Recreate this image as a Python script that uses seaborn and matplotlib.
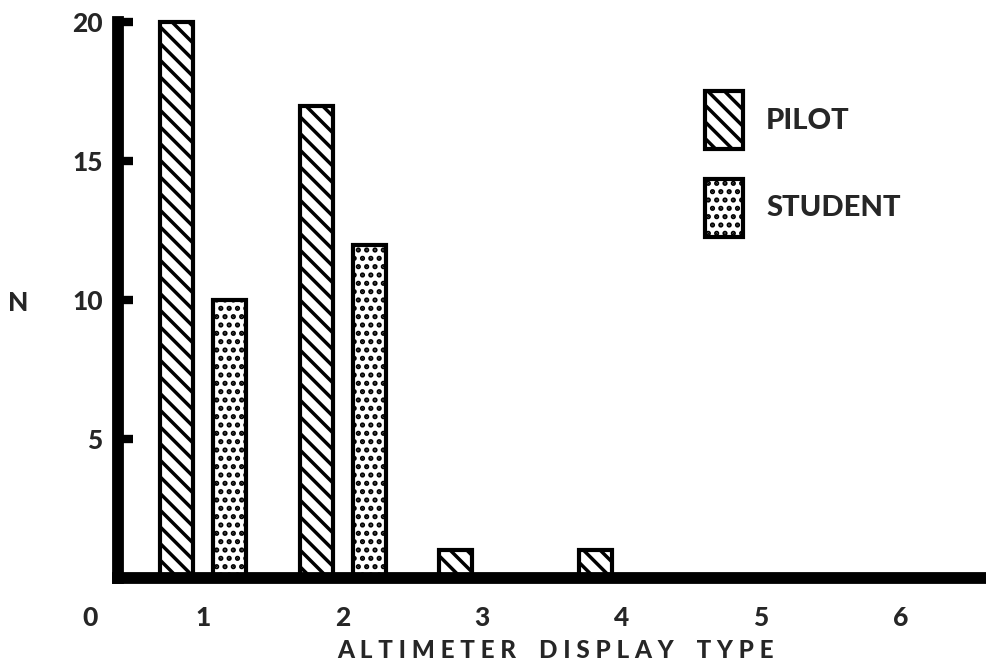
import pandas as pd
import seaborn as sns
import matplotlib.pyplot as plt

sns.set_theme(style="white")
plt.rcParams['font.family'] = ['Lato', 'DejaVu Sans']
plt.rcParams['font.weight'] = 'black'
plt.rcParams['hatch.linewidth'] = 2.5
plt.rcParams['hatch.color'] = 'black'

# Values
display_types = [1, 2, 3, 4, 5, 6]
pilot_counts = [20, 17, 1, 1, 0, 0]
student_counts = [10, 12, 0, 0, 0, 0]
groups = ["PILOT", "STUDENT"]

df = pd.DataFrame({
    "Type": display_types * 2,
    "N": pilot_counts + student_counts,
    "Group": [groups[0]] * len(display_types) + [groups[1]] * len(display_types),
})

fig = plt.figure(figsize=(9.87, 6.68), dpi=100)
ax = fig.add_axes([0.1196, 0.1347, 0.8804, 0.832])

sns.barplot(data=df, x="Type", y="N", hue="Group", native_scale=True,
            palette=["white", "white"], edgecolor="black", linewidth=3,
            width=0.76, gap=0.376, legend=False, ax=ax)

hatches = ["\\\\", ".."]
for cont, h in zip(ax.containers, hatches):
    for bar in cont:
        bar.set_hatch(h)
        bar.set_clip_on(False)

ax.set_xlim(0.39, 6.62)
ax.set_ylim(0, 20)
ax.set_yticks([5, 10, 15, 20])
ax.set_xticks(display_types)
ax.set_xlabel("")
ax.set_ylabel("")

for side in ["top", "right"]:
    ax.spines[side].set_visible(False)
for side in ["left", "bottom"]:
    ax.spines[side].set_linewidth(8.5)
    ax.spines[side].set_color("black")

ax.tick_params(axis="y", direction="in", length=11, width=6, pad=11,
               labelsize=19, left=True, color="black")
ax.tick_params(axis="x", length=0, pad=20, labelsize=19)

fig.text(90 / 987, 1 - 618 / 668, "0", fontsize=19, ha="center", va="center")
fig.text(18 / 987, 1 - 303 / 668, "N", fontsize=19, ha="center", va="center")
fig.text(555 / 987, 1 - 650 / 668, "A L T I M E T E R    D I S P L A Y    T Y P E",
         fontsize=17.5, ha="center", va="center")

# Legend
handles = [plt.Rectangle((0, 0), 1, 1, facecolor="white", edgecolor="black",
                         linewidth=3, hatch=h) for h in hatches]
ax.legend(handles, groups, loc="upper left",
          bbox_to_anchor=(705 / 987, 1 - 91 / 668), bbox_transform=fig.transFigure,
          frameon=False, fontsize=21, handlelength=1.3, handleheight=2.7,
          labelspacing=1.0, handletextpad=0.8, borderpad=0, borderaxespad=0)

plt.savefig("out.png", dpi=100)
